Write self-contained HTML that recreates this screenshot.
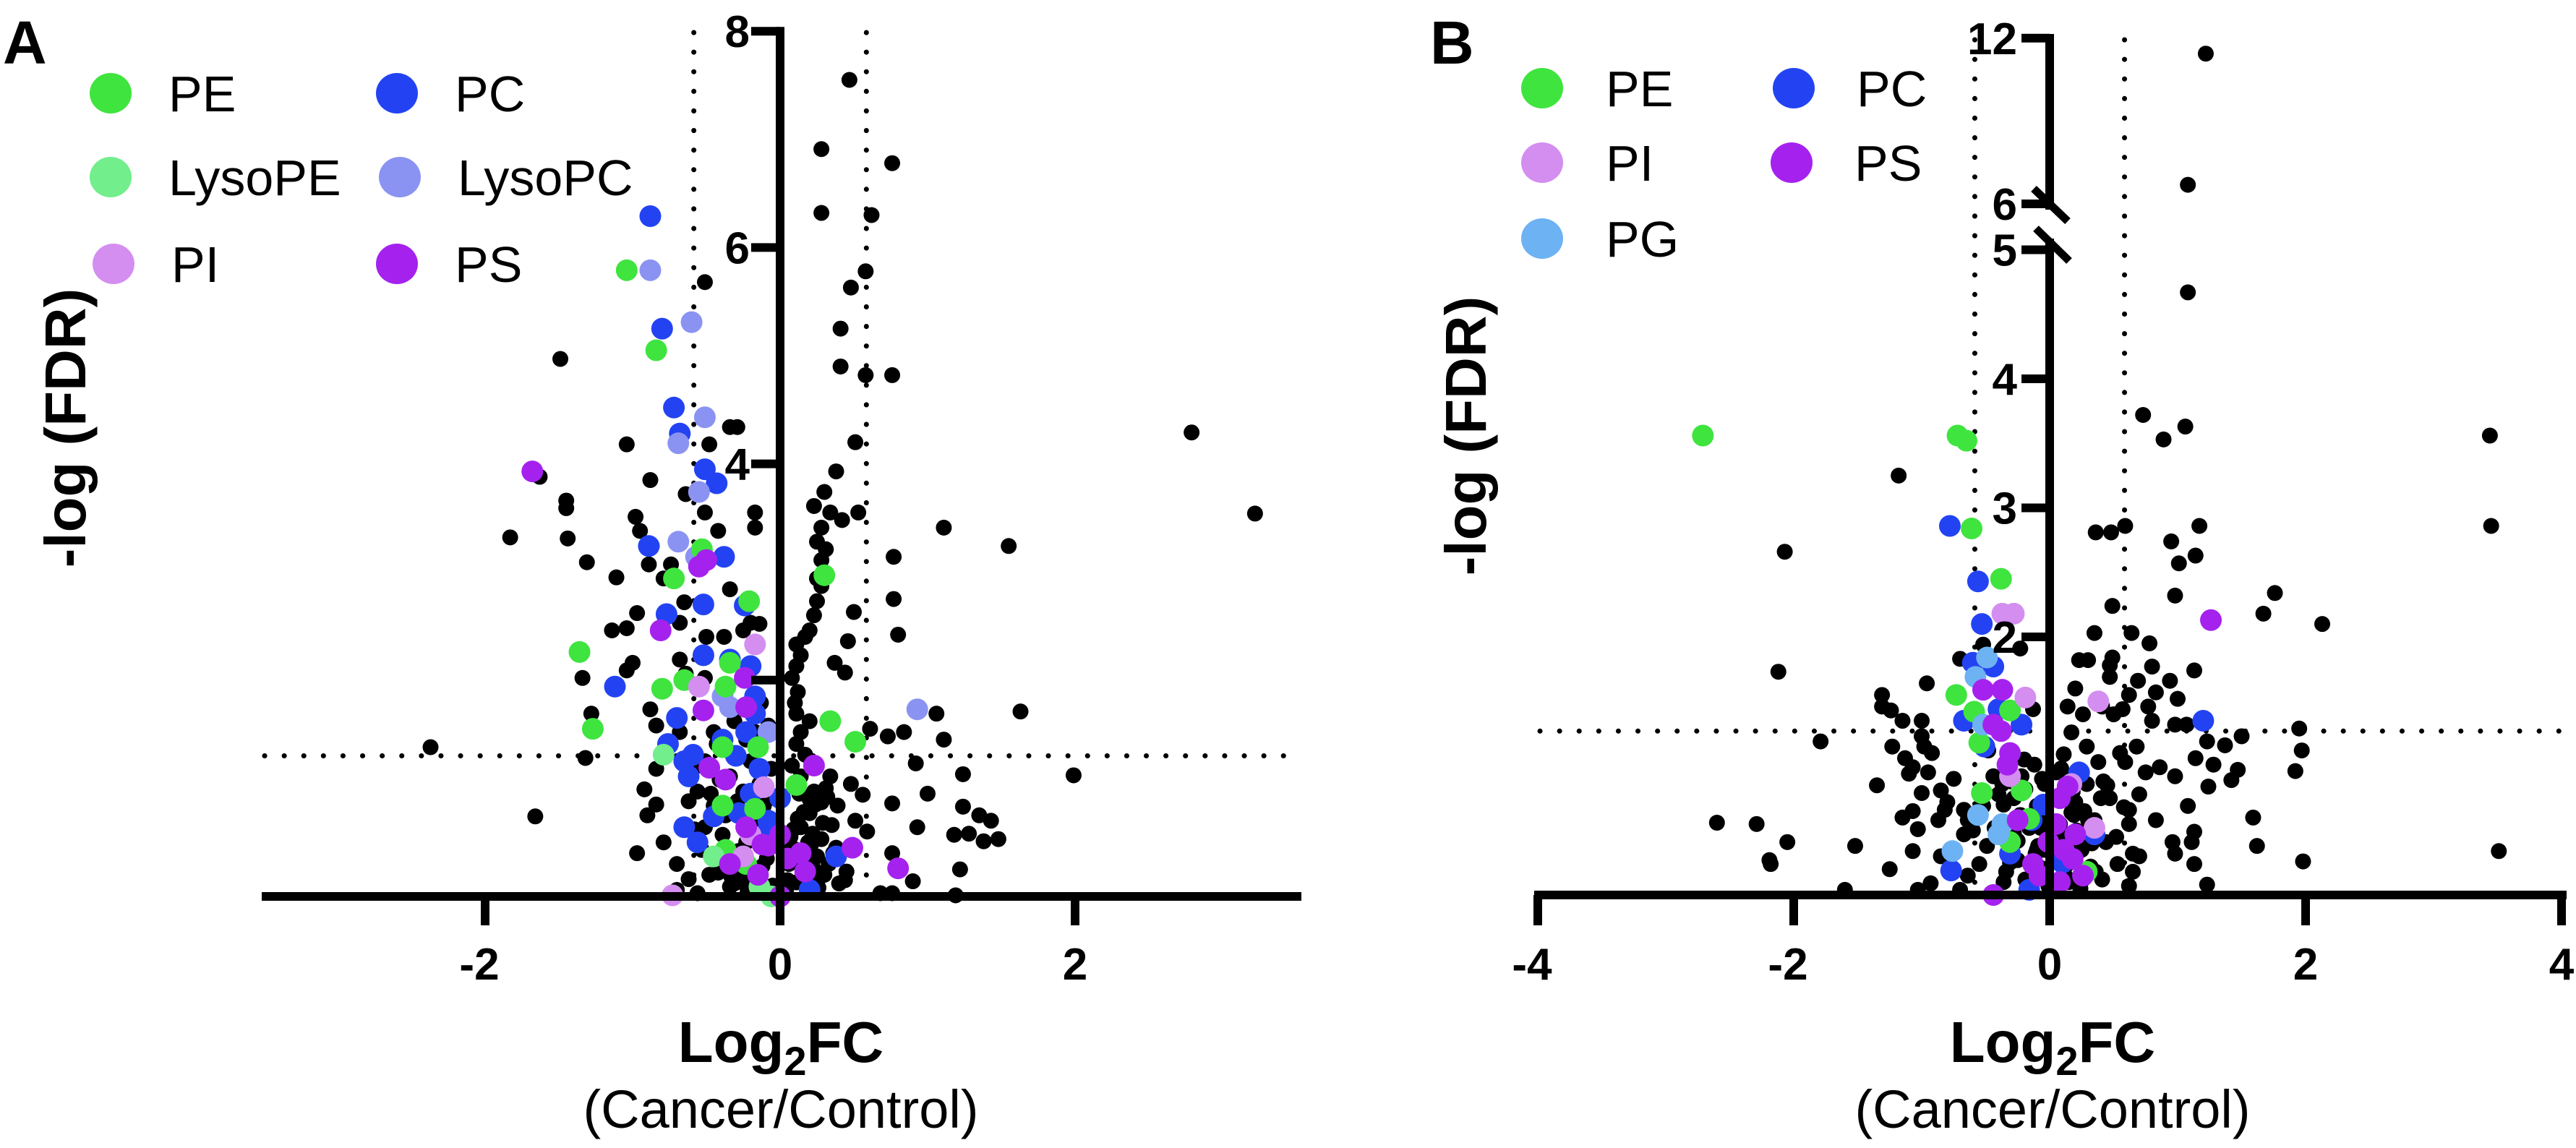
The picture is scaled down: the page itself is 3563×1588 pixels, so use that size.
<!DOCTYPE html>
<html><head><meta charset="utf-8"><style>
html,body{margin:0;padding:0;background:#fff;}
svg{display:block;font-family:"Liberation Sans",Arial,sans-serif;}
</style></head><body>
<svg id="fig" width="3563" height="1588" viewBox="0 0 3563 1588" xmlns="http://www.w3.org/2000/svg">
<g id="pa"></g>
<g id="pb"></g>
</svg>
<script>
// ---------- Panel A data (log2FC, -log FDR) ----------
const aBlackX=[0.47,0.28,0.76,0.28,0.62,0.58,-0.51,0.48,0.41,-1.49,0.41,0.58,0.76,0.51,-1.04,-0.48,-0.34,-0.29,2.79,3.22,1.11,1.55,0.38,-0.88,-1.63,-1.45,-1.45,-1.83,-1.44,-1.31,-1.11,-0.98,-0.95,-0.64,-0.51,-0.42,-0.17,-0.17,0.30,0.23,0.34,0.42,0.28,0.25,0.31,0.28,0.25,0.28,0.25,0.23,0.20,0.17,0.11,0.14,0.11,0.08,0.12,0.10,0.11,0.20,0.14,0.11,0.17,0.08,0.14,0.23,0.28,0.20,0.14,0.28,0.11,0.25,0.06,0.17,0.11,0.25,0.03,
0.53,0.77,0.77,0.80,0.50,0.46,0.37,0.44,0.61,0.73,0.84,1.06,1.11,0.92,1.00,1.24,0.76,0.93,1.24,1.18,1.35,1.43,1.28,1.38,1.48,1.22,0.76,0.90,1.63,1.99,0.56,0.59,0.45,0.68,0.76,1.19,0.51,0.39,0.34,0.48,
-2.37,-1.66,-1.32,-1.28,-1.34,-1.04,-1.00,-0.97,-1.14,-1.04,-0.88,-0.84,-0.92,-0.84,-0.90,-0.97,-0.87,-0.89,-0.79,-0.74,-0.65,-0.68,-0.34,-0.68,-0.64,-0.50,-0.51,-0.38,-0.25,-0.20,-0.14,-0.13,-0.31,-0.45,-0.51,-0.56,-0.45,-0.51,-0.53,-0.62,-0.48,-0.34,-0.23,-0.11,-0.03,-0.70,-0.39,-0.34,-0.23,-0.20,-0.11,-0.06,-0.25,-0.14,-0.06,-0.20,-0.34,-0.23,-0.59,-0.84,-0.68,-0.39,-0.79,-0.70,-0.56,-0.17,-0.08,-0.43,
0.05,0.08,0.12,0.18,0.22,0.27,0.32,0.36,0.04,0.09,0.15,0.19,0.24,0.30,0.35,0.40,0.06,0.13,0.21,0.26,0.33,0.07,0.16,0.23,0.29,0.38,0.44,0.10,0.20,0.31,-0.05,-0.09,-0.14,-0.19,-0.26,-0.31,-0.37,-0.42,-0.47,-0.06,-0.12,-0.18,-0.24,-0.29,-0.35,-0.41,-0.08,-0.16,-0.22,-0.28,-0.33,-0.10,-0.27,-0.44,-0.58,-0.62];
const aBlackY=[7.55,6.91,6.78,6.32,6.30,5.78,5.68,5.63,5.25,4.97,4.90,4.82,4.82,4.20,4.18,4.18,4.34,4.34,4.29,3.54,3.41,3.24,3.93,3.85,3.88,3.66,3.59,3.32,3.31,3.09,2.95,3.51,3.38,3.72,3.55,3.38,3.55,3.41,3.74,3.61,3.55,3.48,3.41,3.28,3.21,3.11,2.94,2.87,2.73,2.60,2.46,2.40,2.33,2.23,2.13,2.02,1.89,1.79,1.69,1.62,1.52,1.41,1.31,1.21,1.11,0.97,0.87,0.77,0.64,0.53,0.43,0.37,0.30,0.23,0.13,0.09,0.06,
3.55,3.14,2.75,2.42,2.63,2.36,2.16,2.07,1.55,1.48,1.52,1.69,1.45,1.23,0.95,1.13,0.86,0.64,0.83,0.57,0.75,0.70,0.58,0.51,0.53,0.25,0.40,0.14,1.71,1.12,0.94,0.60,0.23,0.03,0.03,0.01,0.70,0.84,1.11,1.04,
1.38,0.74,1.28,1.69,2.02,2.09,2.16,2.62,2.46,2.48,1.73,1.58,0.99,0.85,0.75,0.40,3.24,3.07,2.94,3.07,2.72,2.53,2.84,2.19,2.06,2.40,2.02,2.40,2.46,2.53,2.52,1.79,1.62,1.52,1.25,0.97,0.84,0.64,0.43,0.16,0.20,0.09,0.23,0.06,0.04,0.06,0.57,0.37,0.50,0.70,0.84,0.91,0.97,1.04,1.18,1.25,1.11,1.45,1.18,1.18,1.52,1.45,0.50,0.30,0.03,1.52,1.58,1.41,
0.15,0.45,0.72,0.30,0.58,0.18,0.92,0.40,0.05,0.62,0.28,0.50,0.85,0.20,0.66,0.12,0.35,0.95,0.48,0.08,0.30,0.55,0.78,0.25,0.68,0.45,0.15,1.05,0.90,1.00,0.10,0.35,0.20,0.58,0.30,0.12,0.75,0.22,0.95,0.48,0.28,0.68,0.15,0.88,0.40,1.08,0.62,0.80,0.05,0.42,0.18,1.00,0.25,0.78,0.62,0.88];
const aPCX=[-0.88,-0.80,-0.72,-0.68,-0.51,-0.43,-0.89,-0.38,-0.52,-0.24,-0.77,-1.12,-0.52,-0.34,-0.20,-0.17,-0.70,-0.17,-0.76,-0.59,-0.65,-0.62,-0.65,-0.56,-0.23,-0.14,0.00,0.38,0.20,-0.45,-0.28,-0.11,-0.39,-0.30,-0.20,-0.08];
const aPCY=[6.29,5.25,4.52,4.28,3.95,3.82,3.24,3.14,2.70,2.69,2.61,1.94,2.23,2.19,2.13,1.85,1.65,1.69,1.41,1.31,1.25,1.11,0.64,0.50,1.52,1.18,0.91,0.37,0.06,0.74,0.77,0.57,1.45,1.30,0.95,0.70];
const aPEX=[-1.04,-0.84,-0.53,-0.72,-0.21,-1.36,-0.65,-0.80,-0.34,-0.37,-1.27,-0.15,-0.39,0.51,0.30,0.34,-0.39,-0.37,-0.23,0.11,-0.17];
const aPEY=[5.79,5.05,3.21,2.94,2.73,2.26,2.00,1.92,2.16,1.94,1.55,1.38,0.84,1.43,2.97,1.62,1.38,0.43,0.30,1.03,0.81];
const aLysoPEX=[-0.79,-0.14,-0.06,-0.45];
const aLysoPEY=[1.31,0.09,0.00,0.37];
const aLysoPCX=[-0.88,-0.60,-0.51,-0.69,-0.55,-0.69,-0.57,-0.39,0.93,-0.34,-0.08];
const aLysoPCY=[5.79,5.31,4.43,4.19,3.74,3.28,3.14,1.85,1.73,1.75,1.52];
const aPIX=[-0.73,-0.17,-0.55,-0.11,-0.25,-0.20];
const aPIY=[0.01,2.33,1.94,1.01,0.37,0.57];
const aPSX=[-1.68,-0.81,-0.55,-0.50,-0.24,-0.52,-0.48,-0.37,0.23,0.49,0.80,-0.23,0.00,-0.08,0.14,0.17,-0.23,0.00,-0.34,-0.15,0.05,-0.12];
const aPSY=[3.93,2.46,3.05,3.11,2.02,1.72,1.19,1.08,1.21,0.45,0.26,1.75,0.57,0.47,0.40,0.23,0.64,0.00,0.30,0.20,0.35,0.48];
const aXTicks=[-2,0,2];
const aYTicks=[2,4,6,8];
const aYTickLabels=["","4","6","8"];

// ---------- Panel B data ----------
const bBlackX=[1.22,1.08,1.08,0.73,1.06,0.89,3.44,3.45,-1.18,-2.07,-2.12,0.36,0.48,0.59,1.17,0.95,1.14,1.01,1.76,1.67,0.98,2.13,0.49,0.35,0.64,0.78,0.80,1.13,0.49,0.23,0.30,0.47,0.47,0.20,0.69,0.94,0.83,0.62,1.00,0.57,0.50,0.41,0.26,0.14,0.77,0.80,0.98,1.07,1.95,1.50,1.97,1.23,1.37,1.14,1.28,1.47,1.42,1.24,1.92,1.08,1.59,1.62,1.98,1.23,1.13,1.11,1.13,3.51,0.96,0.98,0.68,0.59,0.86,0.98,0.70,0.62,0.83,0.62,0.65,0.65,0.62,0.41,0.53,0.44,0.35,0.47,0.29,0.38,0.29,0.17,0.11,0.14,0.17,0.08,0.14,0.26,-0.01,-0.07,-0.10,-0.07,-0.10,-0.04,-0.12,
-1.31,-1.31,-1.24,-1.15,-1.00,-1.79,-1.23,-1.00,-0.98,-1.13,-1.07,-0.95,-1.10,-1.00,-0.85,-0.80,-0.96,-1.07,-1.03,-0.87,-0.82,-0.67,-2.60,-2.29,-2.05,-2.19,-2.18,-1.52,-1.25,-1.07,-0.93,-1.03,-1.60,-0.70,-0.64,-0.55,-0.67,-0.49,-0.43,-0.64,-0.52,-0.28,-0.37,-0.22,-0.16,-0.25,-0.19,-0.36,-0.70,-0.52,-0.23,-0.13,-0.44,
0.03,0.08,0.12,0.18,0.22,0.27,0.32,0.05,0.10,0.15,0.20,0.25,0.30,0.36,0.42,0.06,0.13,0.19,0.24,0.33,0.40,0.09,0.21,0.28,0.45,0.52,0.58,0.70,0.75,0.55,-0.04,-0.08,-0.14,-0.19,-0.25,-0.31,-0.36,-0.42,-0.06,-0.11,-0.17,-0.23,-0.28,-0.34,-0.40,-0.09,-0.20,-0.30,-0.48,-0.60,-0.75,-0.85,-0.92,-1.15,-1.35];
const bBlackY=[11.44,6.69,4.67,3.72,3.63,3.53,3.56,2.86,3.25,2.66,1.73,2.81,2.81,2.86,2.86,2.74,2.63,2.57,2.34,2.18,2.32,2.10,2.24,2.03,2.03,1.95,1.77,1.74,1.84,1.82,1.82,1.78,1.69,1.60,1.66,1.66,1.57,1.55,1.52,1.44,1.40,1.46,1.40,1.46,1.46,1.35,1.32,1.32,1.29,1.23,1.12,1.19,1.16,1.06,1.01,0.97,0.89,0.84,0.96,0.69,0.60,0.38,0.26,0.08,0.49,0.41,0.24,0.34,0.41,0.32,1.15,1.03,0.99,0.92,0.78,0.66,0.58,0.55,0.32,0.18,0.07,0.12,0.24,0.41,0.58,0.75,0.86,1.03,1.15,1.26,1.09,0.92,0.64,0.44,0.24,0.12,0.07,0.21,0.35,0.52,0.69,0.86,1.01,
1.55,1.46,1.43,1.35,1.35,1.19,1.15,1.23,1.15,1.06,0.99,0.95,0.94,0.79,0.81,0.72,1.64,0.65,0.51,0.58,0.66,0.66,0.56,0.55,0.41,0.27,0.24,0.38,0.20,0.34,0.09,0.04,0.04,0.04,0.15,0.24,0.47,0.38,0.52,0.58,0.69,0.75,0.86,0.92,0.52,0.27,0.12,0.10,1.83,1.94,1.91,1.44,0.92,
0.30,0.55,0.15,0.80,0.40,0.65,0.22,0.95,0.48,0.10,0.72,0.35,0.58,0.18,0.88,0.45,0.28,0.62,0.05,0.40,0.75,0.98,0.50,0.20,0.85,0.45,0.68,0.30,0.95,1.10,0.35,0.60,0.15,0.82,0.42,0.25,0.70,0.52,0.90,0.32,0.08,0.62,0.48,0.18,0.78,0.38,1.05,0.88,1.12,0.50,0.90,0.30,1.10,0.60,0.85];
const bPEX=[-2.71,-0.72,-0.65,-0.61,-0.38,-0.73,-0.59,-0.31,-0.55,-0.53,-0.31,-0.16,0.29,-0.22];
const bPEY=[3.56,3.56,3.52,2.84,2.45,1.55,1.42,1.43,1.18,0.79,0.41,0.59,0.18,0.81];
const bPCX=[-0.78,-0.56,-0.53,-0.60,-0.44,-0.67,-0.51,-0.22,-0.40,1.20,-0.77,0.23,-0.16,0.35,-0.31,-0.14,0.10,-0.05];
const bPCY=[2.86,2.43,2.10,1.80,1.77,1.35,1.15,1.32,1.44,1.35,0.19,0.95,0.04,0.47,0.32,0.58,0.25,0.70];
const bPIX=[-0.37,-0.28,-0.19,0.38,-0.31,0.35,0.17];
const bPIY=[2.18,2.18,1.53,1.50,0.92,0.52,0.86];
const bPGX=[-0.49,-0.58,-0.52,-0.56,-0.76,-0.40,-0.37];
const bPGY=[1.84,1.69,1.32,0.62,0.34,0.47,0.55];
const bPSX=[1.26,-0.52,-0.37,-0.44,-0.38,-0.31,-0.33,-0.44,0.08,0.14,0.20,0.11,0.26,0.08,-0.25,-0.13,-0.01,0.05,0.18,-0.08];
const bPSY=[2.13,1.59,1.59,1.32,1.27,1.10,1.01,0.00,0.75,0.84,0.47,0.35,0.15,0.10,0.58,0.24,0.41,0.55,0.28,0.15];
const bXTicks=[-4,-2,0,2,4];
const bYTicks=[2,3,4,5,6,12];

const COL={PE:"#3fe43f",LysoPE:"#72ee8c",PC:"#2343f3",LysoPC:"#8b93f2",PI:"#d48ef0",PS:"#a522ee",PG:"#6db2f3"};
const NS="http://www.w3.org/2000/svg";
function mk(parent,tag,attrs,text){const e=document.createElementNS(NS,tag);for(const k in attrs)e.setAttribute(k,attrs[k]);if(text!==undefined)e.textContent=text;parent.appendChild(e);return e;}

const axA={x:v=>1079+v*204,y:v=>1240-v*149.6};
const axB={x:v=>2835+v*177,y:v=>v<=5.5?1238-v*178.5:282-(v-6)*38.2};

function dotted(g,x1,y1,x2,y2,name){
  const l=mk(g,"line",{x1,y1,x2,y2,stroke:"#000","stroke-width":7,"stroke-linecap":"round","stroke-dasharray":"0.1 27"});
  
  
}
function points(g,ax,xs,ys,fill,r,name){
  for(let i=0;i<xs.length;i++){
    const c=mk(g,"circle",{cx:ax.x(xs[i]),cy:ax.y(ys[i]),r:r,fill:fill});
    
    
  }
}
function legend(g,items){
  items.forEach(it=>{
    const c=mk(g,"ellipse",{cx:it[1],cy:it[2],rx:29,ry:28,fill:COL[it[0]]});
    
    
    const t=mk(g,"text",{x:it[3],y:it[2]+25,"font-size":70,fill:"#000"},it[0]);
    
    
  });
}
function txt(g,attrs,s,name){const t=mk(g,"text",attrs,s);return t;}
function xTitle(g,cx){
  const t=mk(g,"text",{x:cx,y:1469,"font-size":80,"font-weight":"bold","text-anchor":"middle"});
  
  
  mk(t,"tspan",{},"Log");
  mk(t,"tspan",{dy:18,"font-size":56},"2");
  mk(t,"tspan",{dy:-18},"FC");
  txt(g,{x:cx,y:1560,"font-size":74,"text-anchor":"middle"},"(Cancer/Control)","x-axis-subtitle");
}

// ---------- Panel A ----------
(function(){
  const g=document.getElementById("pa");
  txt(g,{x:4,y:88,"font-size":84,"font-weight":"bold"},"A","panel-label-a");
  dotted(g,axA.x(-0.585),45,axA.x(-0.585),1234,'fc-threshold-left');
  dotted(g,axA.x(0.585),45,axA.x(0.585),1234,'fc-threshold-right');
  dotted(g,366,axA.y(1.3),1800,axA.y(1.3),'fdr-threshold');
  points(g,axA,aBlackX,aBlackY,"#000",11,'point-other');
  points(g,axA,aPCX,aPCY,COL.PC,15,'point-pc');
  points(g,axA,aLysoPCX,aLysoPCY,COL.LysoPC,15,'point-lysopc');
  points(g,axA,aPEX,aPEY,COL.PE,15,'point-pe');
  points(g,axA,aLysoPEX,aLysoPEY,COL.LysoPE,15,'point-lysope');
  points(g,axA,aPIX,aPIY,COL.PI,15,'point-pi');
  points(g,axA,aPSX,aPSY,COL.PS,15,'point-ps');
  const ya=mk(g,"line",{x1:axA.x(0),y1:axA.y(8)-6,x2:axA.x(0),y2:1246,stroke:"#000","stroke-width":12});
  
  
  const xa=mk(g,"line",{x1:362,y1:1240,x2:1800,y2:1240,stroke:"#000","stroke-width":12});
  
  
  aXTicks.forEach(v=>{
    const t=mk(g,"line",{x1:axA.x(v),y1:1240,x2:axA.x(v),y2:1280,stroke:"#000","stroke-width":12});
    
    
    txt(g,{x:axA.x(v)-(v<0?8:0),y:1355,"font-size":62,"font-weight":"bold","text-anchor":"middle"},v<0?"-"+Math.abs(v):String(v),'x-tick-label');
  });
  aYTicks.forEach((v,i)=>{
    const t=mk(g,"line",{x1:axA.x(0)-40,y1:axA.y(v),x2:axA.x(0),y2:axA.y(v),stroke:"#000","stroke-width":12});
    
    
    if(aYTickLabels[i]) txt(g,{x:1037,y:axA.y(v)+22,"font-size":62,"font-weight":"bold","text-anchor":"end"},aYTickLabels[i],'y-tick-label');
  });
  legend(g,[["PE",153,129,233],["LysoPE",153,245,233],["PI",157,365,237],["PC",549,129,629],["LysoPC",553,245,633],["PS",549,365,629]]);
  txt(g,{x:0,y:0,"font-size":80,"font-weight":"bold","text-anchor":"middle",transform:"translate(118,592) rotate(-90)"},"-log (FDR)",'y-axis-title');
  xTitle(g,1080);
})();

// ---------- Panel B ----------
(function(){
  const g=document.getElementById("pb");
  txt(g,{x:1978,y:88,"font-size":84,"font-weight":"bold"},"B","panel-label-b");
  dotted(g,axB.x(-0.585),55,axB.x(-0.585),1232,'fc-threshold-left');
  dotted(g,axB.x(0.585),55,axB.x(0.585),1232,'fc-threshold-right');
  dotted(g,2130,axB.y(1.27),3540,axB.y(1.27),'fdr-threshold');
  points(g,axB,bBlackX,bBlackY,"#000",11,'point-other');
  points(g,axB,bPCX,bPCY,COL.PC,15,'point-pc');
  points(g,axB,bPEX,bPEY,COL.PE,15,'point-pe');
  points(g,axB,bPGX,bPGY,COL.PG,15,'point-pg');
  points(g,axB,bPIX,bPIY,COL.PI,15,'point-pi');
  points(g,axB,bPSX,bPSY,COL.PS,15,'point-ps');
  const y1=mk(g,"line",{x1:2835,y1:47,x2:2835,y2:290,stroke:"#000","stroke-width":12});
  
  
  const y2=mk(g,"line",{x1:2835,y1:330,x2:2835,y2:1244,stroke:"#000","stroke-width":12});
  
  
  [[2813,261,2860,306],[2816,316,2862,361]].forEach(s=>{
    const b=mk(g,"line",{x1:s[0],y1:s[1],x2:s[2],y2:s[3],stroke:"#000","stroke-width":11});
    
    
  });
  const xa=mk(g,"line",{x1:2122,y1:1238,x2:3550,y2:1238,stroke:"#000","stroke-width":12});
  
  
  bXTicks.forEach(v=>{
    const t=mk(g,"line",{x1:axB.x(v),y1:1238,x2:axB.x(v),y2:1280,stroke:"#000","stroke-width":12});
    
    
    txt(g,{x:axB.x(v)-(v<0?8:0),y:1355,"font-size":62,"font-weight":"bold","text-anchor":"middle"},v<0?"-"+Math.abs(v):String(v),'x-tick-label');
  });
  bYTicks.forEach(v=>{
    const t=mk(g,"line",{x1:2796,y1:axB.y(v),x2:2835,y2:axB.y(v),stroke:"#000","stroke-width":12});
    
    
    txt(g,{x:2790,y:axB.y(v)+22,"font-size":62,"font-weight":"bold","text-anchor":"end"},String(v),'y-tick-label');
  });
  legend(g,[["PE",2133,122,2221],["PI",2133,225,2221],["PG",2133,330,2221],["PC",2481,122,2568],["PS",2478,225,2565]]);
  txt(g,{x:0,y:0,"font-size":80,"font-weight":"bold","text-anchor":"middle",transform:"translate(2055,603) rotate(-90)"},"-log (FDR)",'y-axis-title');
  xTitle(g,2839);
})();
</script>
</body></html>
